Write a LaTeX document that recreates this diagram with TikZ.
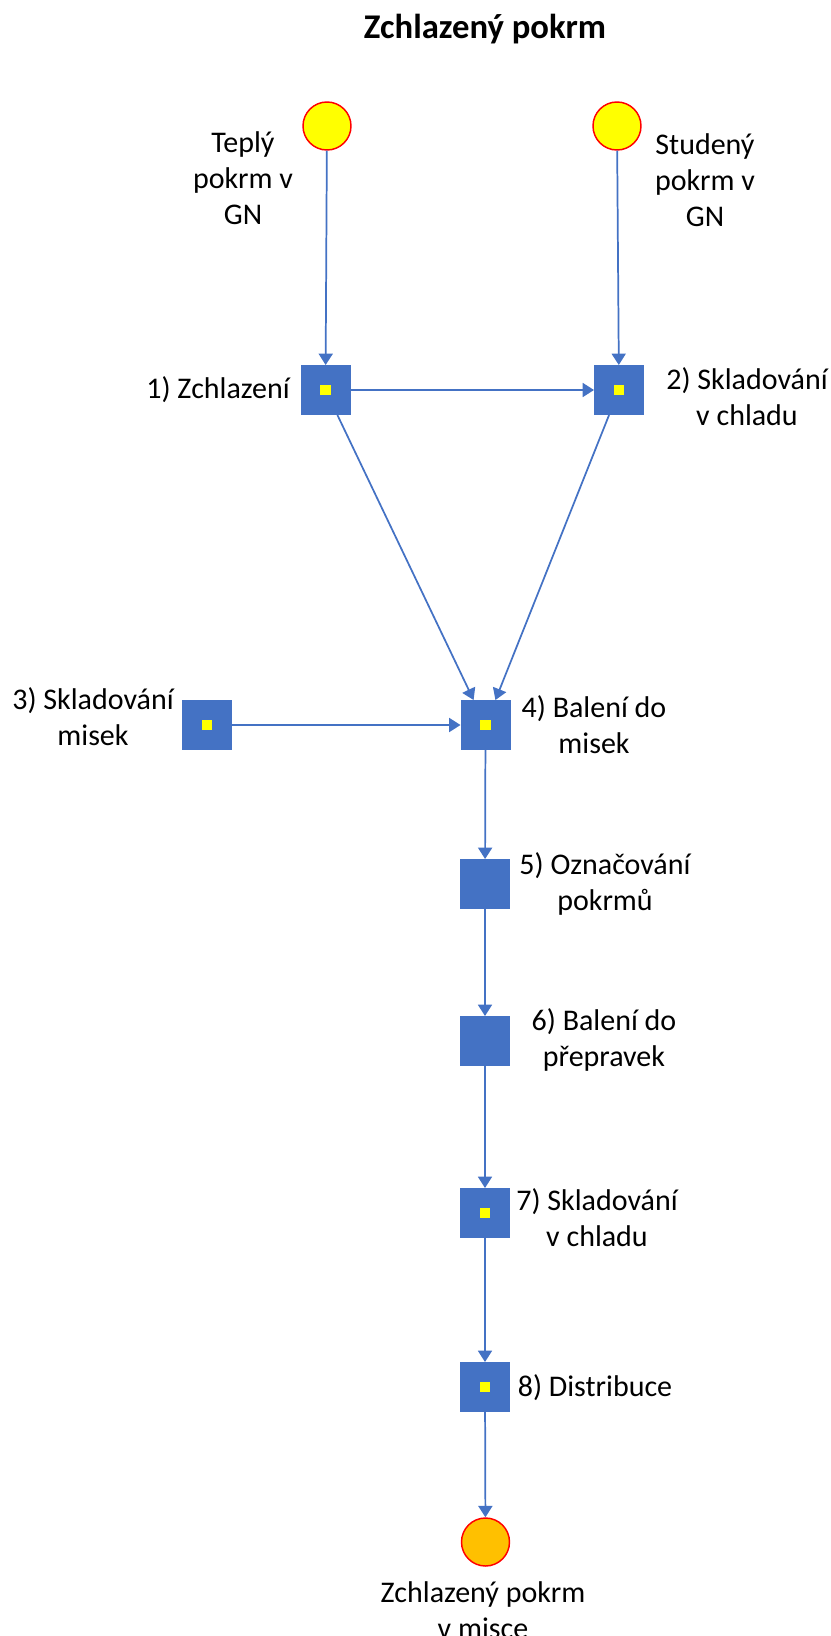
\documentclass[tikz,border=0pt]{standalone}
\usepackage{fontspec}
\setmainfont{Carlito}
\usetikzlibrary{arrows.meta}
\definecolor{flowblue}{HTML}{4472C4}
\definecolor{startyellow}{HTML}{FFFF00}
\definecolor{endorange}{HTML}{FFC000}
\definecolor{rimred}{HTML}{FF0000}
\begin{document}
\begin{tikzpicture}[x=0.75pt,y=-0.75pt,
  stepbox/.style={fill=flowblue, draw=none, minimum size=37.5pt, inner sep=0pt, outer sep=0pt},
  ydot/.style={fill=startyellow, draw=none, minimum size=8pt, inner sep=0pt},
  place/.style={circle, draw=rimred, line width=1.1pt, fill=startyellow, minimum size=36pt, inner sep=0pt},
  finalplace/.style={place, fill=endorange},
  flow/.style={draw=flowblue, line width=1.3pt, -{Triangle[length=8.5pt,width=10.5pt]}},
  lbl/.style={font=\fontsize{22.5}{27}\selectfont, align=center, inner sep=0pt}
]
\useasboundingbox (0,0) rectangle (831,1636);

% title
\node[font=\bfseries\fontsize{26}{30}\selectfont, inner sep=0pt] (title) at (485,29) {Zchlazený pokrm};

% input places
\node[place] (c1) at (327,126) {};
\node[place] (c2) at (617,126) {};
\node[lbl] (c1l) at (243,178) {Teplý\\pokrm v\\GN};
\node[lbl] (c2l) at (705,180) {Studený\\pokrm v\\GN};

% process steps
\node[stepbox] (b1) at (325.5,390) {};
\node[stepbox] (b2) at (619,390) {};
\node[stepbox] (b3) at (207,725) {};
\node[stepbox] (b4) at (485.5,725) {};
\node[stepbox] (b5) at (485,884) {};
\node[stepbox] (b6) at (485,1041) {};
\node[stepbox] (b7) at (485,1213) {};
\node[stepbox] (b8) at (485,1387) {};

% yellow markers inside the steps
\node[ydot] (b1m) at (b1) {};
\node[ydot] (b2m) at (b2) {};
\node[ydot] (b3m) at (b3) {};
\node[ydot] (b4m) at (b4) {};
\node[ydot] (b7m) at (b7) {};
\node[ydot] (b8m) at (b8) {};

% output place
\node[finalplace] (c3) at (485.5,1542) {};

% step labels
\node[lbl] (b1l) at (218,390) {1) Zchlazení};
\node[lbl] (b2l) at (747,397) {2) Skladování\\v chladu};
\node[lbl] (b3l) at (93,717) {3) Skladování\\misek};
\node[lbl] (b4l) at (594,725) {4) Balení do\\misek};
\node[lbl] (b5l) at (605,884) {5) Označování\\pokrmů};
\node[lbl] (b6l) at (604,1040) {6) Balení do\\přepravek};
\node[lbl] (b7l) at (597,1218) {7) Skladování\\v chladu};
\node[lbl] (b8l) at (595,1388) {8) Distribuce};
\node[lbl] (c3l) at (483,1610) {Zchlazený pokrm\\v misce};

% connectors
\draw[flow] (c1) -- (b1);
\draw[flow] (c2) -- (b2);
\draw[flow] (b1) -- (b2);
\draw[flow] (b1) -- (b4);
\draw[flow] (b2) -- (b4);
\draw[flow] (b3) -- (b4);
\draw[flow] (b4) -- (b5);
\draw[flow] (b5) -- (b6);
\draw[flow] (b6) -- (b7);
\draw[flow] (b7) -- (b8);
\draw[flow] (b8) -- (c3);
\end{tikzpicture}
\end{document}
